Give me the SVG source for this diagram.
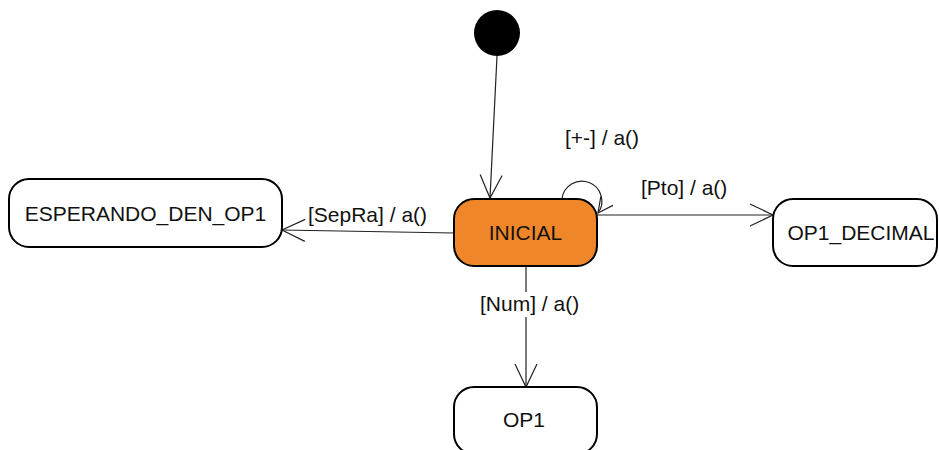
<svg xmlns="http://www.w3.org/2000/svg" width="939" height="450" viewBox="0 0 939 450">
<style>
.state{fill:#ffffff;stroke:#000000;stroke-width:2}
.active{fill:#f0862a;stroke:#000000;stroke-width:2}
.lbl{font-family:"Liberation Sans",Arial,sans-serif;font-size:21px;fill:#111111}
.edge{fill:none;stroke:#222222;stroke-width:1.2}
</style>
<defs>
<marker id="open" markerUnits="userSpaceOnUse" markerWidth="26" markerHeight="24" refX="23" refY="11" orient="auto" overflow="visible">
<path d="M0,0 L23,11 L0,22" fill="none" stroke="#222222" stroke-width="1.2"/>
</marker>
<marker id="openSmall" markerUnits="userSpaceOnUse" markerWidth="18" markerHeight="16" refX="15" refY="7.5" orient="auto" overflow="visible">
<path d="M0,0 L15,7.5 L0,15" fill="none" stroke="#222222" stroke-width="1.2"/>
</marker>
</defs>
<rect width="939" height="450" fill="#ffffff"/>
<g id="connectors">
<path class="edge" d="M497,56 L490,198" marker-end="url(#open)"/>
<path class="edge" d="M562,199 A20,20 0 1 1 598,213" marker-end="url(#openSmall)"/>
<path class="edge" d="M454,233 L282,230" marker-end="url(#open)"/>
<path class="edge" d="M597,215 L773,215" marker-end="url(#open)"/>
<path class="edge" d="M526,267 L526,387" marker-end="url(#open)"/>
<rect x="478" y="292" width="104" height="25" fill="#ffffff"/>
<text class="lbl" x="565" y="145">[+-] / a()</text>
<text class="lbl" x="308" y="222">[SepRa] / a()</text>
<text class="lbl" x="641" y="195">[Pto] / a()</text>
<text class="lbl" x="480" y="311">[Num] / a()</text>
</g>
<g id="initial">
<circle cx="497" cy="33" r="23" fill="#000000"/>
</g>
<g id="INICIAL">
<rect class="active" x="454" y="199" width="143" height="67" rx="20" ry="20"/>
<text class="lbl" x="525.5" y="240" text-anchor="middle">INICIAL</text>
</g>
<g id="ESPERANDO_DEN_OP1">
<rect class="state" x="9" y="179" width="273" height="68" rx="20" ry="20"/>
<text class="lbl" x="145.5" y="221" text-anchor="middle">ESPERANDO_DEN_OP1</text>
</g>
<g id="OP1_DECIMAL">
<rect class="state" x="773" y="199" width="164" height="67" rx="20" ry="20"/>
<text class="lbl" x="861" y="240" text-anchor="middle">OP1_DECIMAL</text>
</g>
<g id="OP1">
<rect class="state" x="454" y="387" width="143" height="67" rx="20" ry="20"/>
<text class="lbl" x="524" y="427" text-anchor="middle">OP1</text>
</g>
</svg>
